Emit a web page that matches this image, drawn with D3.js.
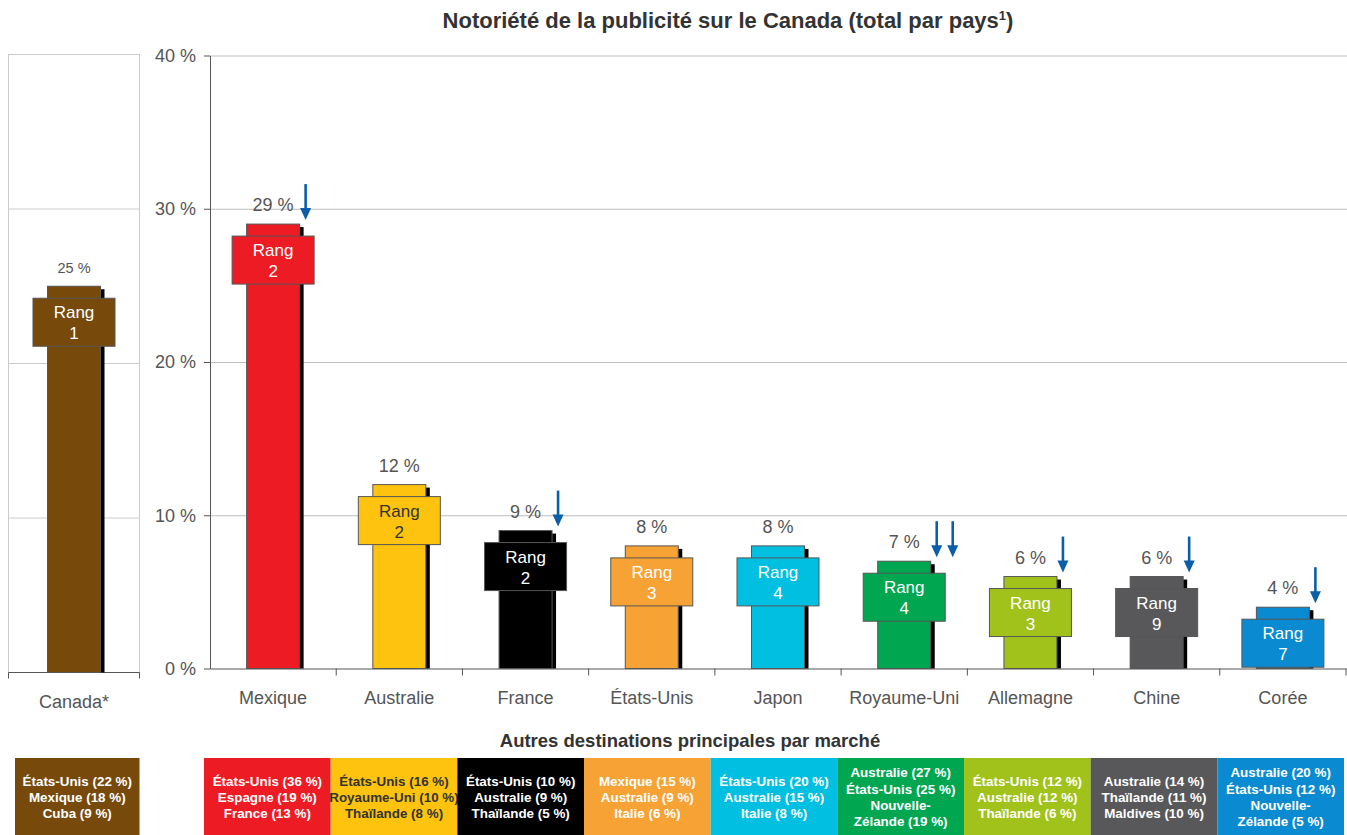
<!DOCTYPE html>
<html>
  <head>
    <meta charset="utf-8">
    <title>Notoriété de la publicité sur le Canada</title>
    <script src="https://d3js.org/d3.v7.min.js"></script>
    <style>
      body { margin: 0; background: #fff; }
      svg { font-family: "Liberation Sans", Arial, Helvetica, sans-serif; }
      .axis text { fill: #555; font-size: 18px; }
      .axis path, .axis line { stroke: #555; }
      .grid line { stroke: #bdbdbd; }
      .grid path { display: none; }
    </style>
  </head>
  <body>
    <svg id="chart" width="1347" height="835"></svg>
    <script>
      // data
      const categories = ["Mexique", "Australie", "France", "États-Unis", "Japon", "Royaume-Uni", "Allemagne", "Chine", "Corée"];
      const values = [29, 12, 9, 8, 8, 7, 6, 6, 4];
      const ranks = [2, 2, 2, 3, 4, 4, 3, 9, 7];
      const arrowCounts = [1, 0, 1, 0, 0, 2, 1, 1, 1];
      const otherDestinations = [
        ["États-Unis (36 %)", "Espagne (19 %)", "France (13 %)"],
        ["États-Unis (16 %)", "Royaume-Uni (10 %)", "Thaïlande (8 %)"],
        ["États-Unis (10 %)", "Australie (9 %)", "Thaïlande (5 %)"],
        ["Mexique (15 %)", "Australie (9 %)", "Italie (6 %)"],
        ["États-Unis (20 %)", "Australie (15 %)", "Italie (8 %)"],
        ["Australie (27 %)", "États-Unis (25 %)", "Nouvelle-", "Zélande (19 %)"],
        ["États-Unis (12 %)", "Australie (12 %)", "Thaïlande (6 %)"],
        ["Australie (14 %)", "Thaïlande (11 %)", "Maldives (10 %)"],
        ["Australie (20 %)", "États-Unis (12 %)", "Nouvelle-", "Zélande (5 %)"]
      ];
      const homeCategory = "Canada*";
      const homeValue = 25;
      const homeRank = 1;
      const homeOthers = ["États-Unis (22 %)", "Mexique (18 %)", "Cuba (9 %)"];
      const yTicks = [0, 10, 20, 30, 40];

      // styles
      const palette = ["#ed1c24", "#fdc30e", "#000000", "#f7a234", "#00bfe0", "#00a650", "#a0c21b", "#58585a", "#0a8ad1"];
      const homeColour = "#774a0c";
      const arrowColour = "#0b5ea8";
      const barWidth = 53;
      const rangW = 82, rangH = 48;

      const chart = d3.select("#chart");

      // scales
      const x = d3.scaleBand().domain(categories).range([210, 1346]);
      const y = d3.scaleLinear().domain([0, 40]).range([668.5, 55.5]);
      const xHome = d3.scaleBand().domain([homeCategory]).range([8.5, 139.5]);
      const yHome = d3.scaleLinear().domain([0, 40]).range([672.5, 54.5]);
      const boxX = d3.scaleBand().domain(categories).range([204, 1344]);
      const colour = d3.scaleOrdinal().domain(categories).range(palette);
      const ink = c => d3.lab(c).l > 78 ? "#333" : "#fff";

      // title
      const title = chart.append("text")
        .attr("x", 728)
        .attr("y", 28)
        .attr("text-anchor", "middle")
        .style("font-size", "22px")
        .style("font-weight", "bold")
        .style("fill", "#333")
        .text("Notoriété de la publicité sur le Canada (total par pays");
      title.append("tspan").attr("dy", -8).style("font-size", "13px").text("1");
      title.append("tspan").attr("dy", 8).text(")");

      // left panel: Canada
      const home = chart.append("g").attr("id", "home");
      home.append("rect")
        .attr("x", xHome.range()[0])
        .attr("y", yHome(40))
        .attr("width", xHome.range()[1] - xHome.range()[0])
        .attr("height", yHome(0) - yHome(40))
        .attr("fill", "none")
        .attr("stroke", "#ccc");
      home.selectAll(".hgrid")
        .data([10, 20, 30])
        .enter().append("line")
          .attr("x1", xHome.range()[0])
          .attr("x2", xHome.range()[1])
          .attr("y1", d => yHome(d))
          .attr("y2", d => yHome(d))
          .attr("stroke", "#ccc");
      const homeAxis = home.append("g")
        .attr("class", "axis")
        .attr("transform", "translate(0," + yHome(0) + ")")
        .call(d3.axisBottom(xHome).tickSize(0).tickPadding(23).tickSizeOuter(6));
      homeAxis.select("path").attr("d", "M" + xHome.range()[0] + ",6V0H" + xHome.range()[1] + "V6");

      // main grid and axes
      chart.append("g")
        .attr("class", "grid")
        .attr("transform", "translate(210,0)")
        .call(d3.axisRight(y).tickValues(yTicks.slice(1)).tickSize(1347 - 210).tickFormat(""));
      chart.append("g")
        .attr("class", "axis")
        .attr("transform", "translate(210,0)")
        .call(d3.axisLeft(y).tickValues(yTicks).tickSize(6).tickSizeOuter(0).tickPadding(8).tickFormat(d => d + " %"));
      const xAxisGroup = chart.append("g")
        .attr("class", "axis")
        .attr("transform", "translate(0," + y(0) + ")")
        .call(d3.axisBottom(x).tickSize(0).tickSizeOuter(0).tickPadding(23));
      xAxisGroup.selectAll(".sep")
        .data(categories)
        .enter().append("line")
          .attr("x1", d => x(d) + x.step())
          .attr("x2", d => x(d) + x.step())
          .attr("y1", 0)
          .attr("y2", 7)
          .attr("stroke", "#555");

      // draws a bar with shadow, rank box and value label
      function drawBar(g, cx, v, rank, fill, ys, labelSize) {
        const top = ys(v), base = ys(0);
        g.append("rect")
          .attr("x", cx - barWidth / 2 + 4)
          .attr("y", top + 3)
          .attr("width", barWidth)
          .attr("height", base - top - 3)
          .attr("fill", "#000");
        g.append("rect")
          .attr("x", cx - barWidth / 2)
          .attr("y", top)
          .attr("width", barWidth)
          .attr("height", base - top)
          .attr("fill", fill)
          .attr("stroke", "#555")
          .attr("stroke-width", 1);
        const by = Math.min(top + 12, base - rangH - 1);
        g.append("rect")
          .attr("x", cx - rangW / 2)
          .attr("y", by)
          .attr("width", rangW)
          .attr("height", rangH)
          .attr("fill", fill)
          .attr("stroke", "#555")
          .attr("stroke-width", 1);
        g.append("text")
          .attr("x", cx)
          .attr("y", by + 20)
          .attr("text-anchor", "middle")
          .style("font-size", "17px")
          .style("fill", ink(fill))
          .text("Rang");
        g.append("text")
          .attr("x", cx)
          .attr("y", by + 41)
          .attr("text-anchor", "middle")
          .style("font-size", "17px")
          .style("fill", ink(fill))
          .text(rank);
        g.append("text")
          .attr("x", cx)
          .attr("y", top - 13)
          .attr("text-anchor", "middle")
          .style("font-size", labelSize)
          .style("fill", "#555")
          .text(v + " %");
      }

      drawBar(home.append("g"), xHome(homeCategory) + xHome.bandwidth() / 2, homeValue, homeRank, homeColour, yHome, "14.5px");

      const bars = chart.append("g").attr("id", "bars");
      categories.forEach(function(c, i) {
        const cx = x(c) + x.bandwidth() / 2;
        drawBar(bars.append("g"), cx, values[i], ranks[i], colour(c), y, "18px");
        // decline arrows
        d3.range(arrowCounts[i]).forEach(function(k) {
          const ax = cx + barWidth / 2 + 6 + k * 16;
          const tip = y(values[i]) - 4;
          bars.append("line")
            .attr("x1", ax).attr("x2", ax)
            .attr("y1", tip - 36).attr("y2", tip - 9)
            .attr("stroke", arrowColour)
            .attr("stroke-width", 2.6);
          bars.append("path")
            .attr("d", "M" + (ax - 5.5) + "," + (tip - 12) + "L" + (ax + 5.5) + "," + (tip - 12) + "L" + ax + "," + tip + "Z")
            .attr("fill", arrowColour);
        });
      });

      // other destinations boxes
      chart.append("text")
        .attr("x", 690)
        .attr("y", 747)
        .attr("text-anchor", "middle")
        .style("font-size", "18.5px")
        .style("font-weight", "bold")
        .style("fill", "#333")
        .text("Autres destinations principales par marché");

      function drawBox(bx, bw, lines, fill) {
        const g = chart.append("g");
        g.append("rect")
          .attr("x", bx)
          .attr("y", 758)
          .attr("width", bw)
          .attr("height", 80)
          .attr("fill", fill);
        g.selectAll("text")
          .data(lines)
          .enter().append("text")
            .attr("x", bx + bw / 2)
            .attr("y", (d, i) => 797 + (i - (lines.length - 1) / 2) * 16.3)
            .attr("dy", "0.36em")
            .attr("text-anchor", "middle")
            .style("font-size", "13.4px")
            .style("font-weight", "bold")
            .style("fill", ink(fill))
            .text(d => d);
      }

      drawBox(xHome.range()[0] + 6.5, xHome.bandwidth() - 6.5, homeOthers, homeColour);
      categories.forEach(function(c, i) {
        drawBox(boxX(c), boxX.bandwidth(), otherDestinations[i], colour(c));
      });
    </script>
  </body>
</html>
